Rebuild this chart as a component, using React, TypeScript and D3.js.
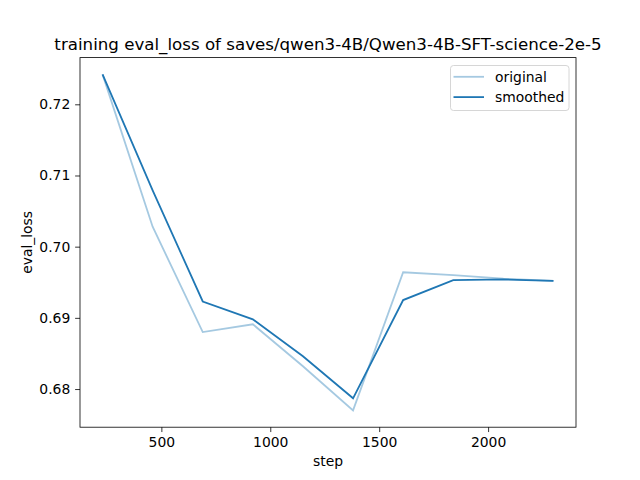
import React, { useEffect, useRef } from "react";
import * as d3 from "d3";

const steps = [230, 460, 690, 920, 1150, 1380, 1610, 1840, 2070, 2300];
const original = [0.7242, 0.7028, 0.688, 0.6891, 0.6832, 0.677, 0.6964, 0.696, 0.6955, 0.6952];
const smoothed = [0.7242, 0.7079, 0.6923, 0.6898, 0.6846, 0.6787, 0.6925, 0.6953, 0.6954, 0.6952];
const xTicks = [500, 1000, 1500, 2000];
const yTicks = [0.68, 0.69, 0.7, 0.71, 0.72];

const W = 640, H = 480;
const margin = { top: 57.6, right: 64, bottom: 52.8, left: 80 };
const FONT = "DejaVu Sans, sans-serif";
const BLUE = "#1f77b4";

export default function App() {
  const ref = useRef<SVGSVGElement>(null);

  useEffect(() => {
    document.body.style.margin = "0";
    const svg = d3.select(ref.current);
    svg.selectAll("*").remove();

    const w = W - margin.left - margin.right;
    const h = H - margin.top - margin.bottom;

    // matplotlib style 5% margins
    const [x0, x1] = d3.extent(steps) as [number, number];
    const all = original.concat(smoothed);
    const y0 = d3.min(all)!, y1 = d3.max(all)!;
    const xp = (x1 - x0) * 0.05, yp = (y1 - y0) * 0.05;

    const x = d3.scaleLinear().domain([x0 - xp, x1 + xp]).range([margin.left, margin.left + w]);
    const y = d3.scaleLinear().domain([y0 - yp, y1 + yp]).range([margin.top + h, margin.top]);

    svg.append("rect").attr("width", W).attr("height", H).attr("fill", "white");

    const line = d3.line<number>().x((d, i) => x(steps[i])).y(d => y(d));

    svg.append("path").datum(original).attr("d", line).attr("fill", "none")
      .attr("stroke", BLUE).attr("stroke-opacity", 0.4).attr("stroke-width", 1.8);
    svg.append("path").datum(smoothed).attr("d", line).attr("fill", "none")
      .attr("stroke", BLUE).attr("stroke-width", 1.8);

    // axes
    const xAxis = svg.append("g").attr("transform", `translate(0,${margin.top + h})`)
      .call(d3.axisBottom(x).tickValues(xTicks).tickSize(4.86).tickPadding(4.86).tickFormat(d3.format("d")));
    const yAxis = svg.append("g").attr("transform", `translate(${margin.left},0)`)
      .call(d3.axisLeft(y).tickValues(yTicks).tickSize(4.86).tickPadding(4.86).tickFormat(d3.format(".2f")));
    [xAxis, yAxis].forEach(g => {
      g.select(".domain").remove();
      g.selectAll("line").attr("stroke", "black").attr("stroke-width", 0.8);
      g.selectAll("text").attr("font-family", FONT).attr("font-size", 13.9).attr("fill", "black");
    });

    svg.append("rect").attr("x", margin.left).attr("y", margin.top).attr("width", w).attr("height", h)
      .attr("fill", "none").attr("stroke", "black").attr("stroke-width", 0.8);

    // labels
    svg.append("text").attr("x", margin.left + w / 2).attr("y", 466).attr("text-anchor", "middle")
      .attr("font-family", FONT).attr("font-size", 13.9).text("step");
    svg.append("text").attr("transform", `translate(32,${margin.top + h / 2}) rotate(-90)`)
      .attr("text-anchor", "middle").attr("font-family", FONT).attr("font-size", 13.9).text("eval_loss");
    svg.append("text").attr("x", margin.left + w / 2).attr("y", 50).attr("text-anchor", "middle")
      .attr("font-family", FONT).attr("font-size", 16.67)
      .text("training eval_loss of saves/qwen3-4B/Qwen3-4B-SFT-science-2e-5");

    // legend
    const lg = svg.append("g").attr("transform", "translate(450.5,65.5)");
    lg.append("rect").attr("width", 118.5).attr("height", 45).attr("rx", 3)
      .attr("fill", "white").attr("fill-opacity", 0.8).attr("stroke", "#cccccc").attr("stroke-width", 0.8);
    const items = [{ label: "original", op: 0.4 }, { label: "smoothed", op: 1 }];
    items.forEach((it, i) => {
      const yy = 11.3 + i * 20.3;
      lg.append("line").attr("x1", 3).attr("x2", 33.5).attr("y1", yy).attr("y2", yy)
        .attr("stroke", BLUE).attr("stroke-opacity", it.op).attr("stroke-width", 1.8);
      lg.append("text").attr("x", 44.5).attr("y", yy + 5).attr("font-family", FONT)
        .attr("font-size", 13.9).text(it.label);
    });
  }, []);

  return <svg ref={ref} width={W} height={H} style={{ display: "block" }} />;
}
